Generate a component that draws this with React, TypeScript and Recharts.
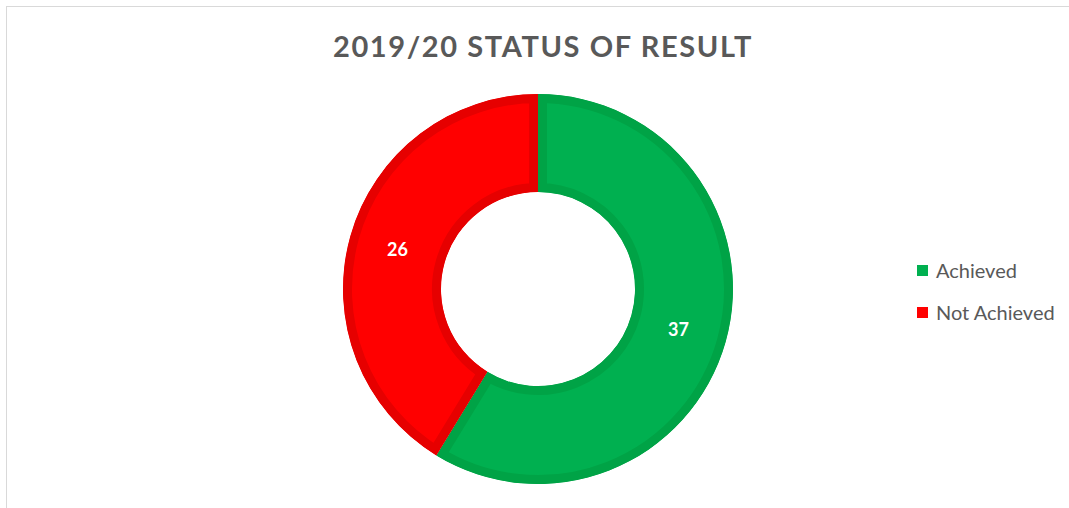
import React from "react";
import { PieChart, Pie, Cell, Legend } from "recharts";

const categories = ["Achieved", "Not Achieved"];
const counts = [37, 26];
const chartTitle = "2019/20 STATUS OF RESULT";

const FILLS = ["#00B050", "#FF0000"];
const EDGES = ["#00A346", "#E60000"];

const data = categories.map((name, i) => ({ name, value: counts[i] }));

const RADIAN = Math.PI / 180;

function sectorPath(cx: number, cy: number, ri: number, ro: number, sa: number, ea: number) {
  const pt = (r: number, a: number) => [cx + r * Math.cos(a * RADIAN), cy - r * Math.sin(a * RADIAN)];
  const large = Math.abs(ea - sa) > 180 ? 1 : 0;
  const [x1, y1] = pt(ro, sa);
  const [x2, y2] = pt(ro, ea);
  const [x3, y3] = pt(ri, ea);
  const [x4, y4] = pt(ri, sa);
  return `M${x1},${y1} A${ro},${ro} 0 ${large} 1 ${x2},${y2} L${x3},${y3} A${ri},${ri} 0 ${large} 0 ${x4},${y4} Z`;
}

// sector with an inner border only (clipped stroke), like the Excel slice outline
function EdgedSector(props: any) {
  const { cx, cy, innerRadius, outerRadius, startAngle, endAngle, index } = props;
  const d = sectorPath(cx, cy, innerRadius, outerRadius, startAngle, endAngle);
  const id = `clip-sector-${index}`;
  return (
    <g>
      <defs>
        <clipPath id={id}>
          <path d={d} />
        </clipPath>
      </defs>
      <path d={d} fill={FILLS[index]} stroke={EDGES[index]} strokeWidth={18} clipPath={`url(#${id})`} />
    </g>
  );
}

function renderLabel(props: any) {
  const { cx, cy, midAngle, innerRadius, outerRadius, value } = props;
  const r = (innerRadius + outerRadius) / 2;
  const x = cx + r * Math.cos(-midAngle * RADIAN);
  const y = cy + r * Math.sin(-midAngle * RADIAN);
  return (
    <text
      x={x}
      y={y}
      fill="#ffffff"
      textAnchor="middle"
      dominantBaseline="central"
      style={{ fontFamily: "Lato, sans-serif", fontSize: 18, fontWeight: 700 }}
    >
      {value}
    </text>
  );
}

function LegendBox() {
  return (
    <div style={{ fontFamily: "Lato, sans-serif", fontSize: 20, color: "#595959" }}>
      {categories.map((c, i) => (
        <div key={c} style={{ display: "flex", alignItems: "center", height: 42 }}>
          <span
            style={{
              display: "inline-block",
              width: 11,
              height: 11,
              background: FILLS[i],
              marginRight: 8,
            }}
          />
          {c}
        </div>
      ))}
    </div>
  );
}

export default function App() {
  return (
    <div style={{ position: "absolute", left: 0, top: 0, width: 1069, height: 508, background: "#fff", overflow: "hidden" }}>
      <div
        style={{
          position: "absolute",
          left: 6,
          top: 6,
          width: 1200,
          height: 700,
          border: "1px solid #d9d9d9",
        }}
      />
      <div
        style={{
          position: "absolute",
          left: 0,
          width: 1086,
          top: 28,
          textAlign: "center",
          fontFamily: "Lato, sans-serif",
          fontWeight: 700,
          fontSize: 29,
          letterSpacing: 1.6,
          color: "#595959",
        }}
      >
        {chartTitle}
      </div>
      <div style={{ position: "absolute", left: 0, top: 0 }}>
        <PieChart width={1069} height={508} margin={{ top: 0, right: 0, bottom: 0, left: 0 }}>
          <Pie
            data={data}
            dataKey="value"
            nameKey="name"
            cx={538}
            cy={289}
            innerRadius={97}
            outerRadius={195}
            startAngle={90}
            endAngle={-270}
            stroke="none"
            shape={EdgedSector}
            label={renderLabel}
            labelLine={false}
            isAnimationActive={false}
          >
            {data.map((d, i) => (
              <Cell key={d.name} fill={FILLS[i]} />
            ))}
          </Pie>
          <Legend
            content={() => <LegendBox />}
            wrapperStyle={{ position: "absolute", left: 917, top: 249, width: 150 }}
          />
        </PieChart>
      </div>
    </div>
  );
}
